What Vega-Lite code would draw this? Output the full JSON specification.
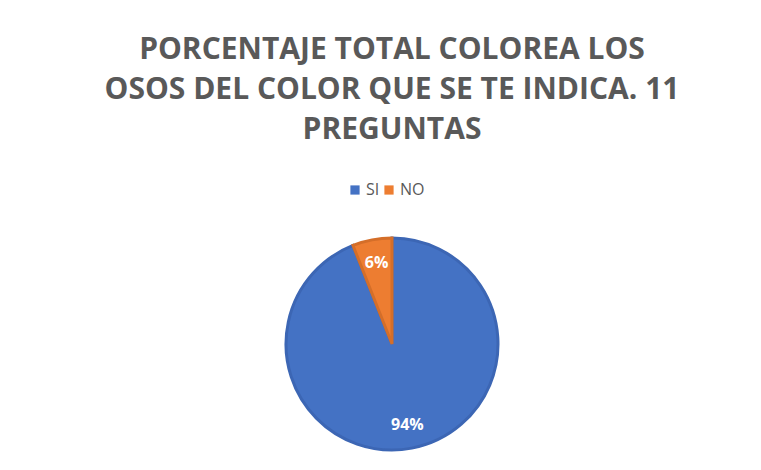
{
  "$schema": "https://vega.github.io/schema/vega-lite/v6.json",
  "autosize": {"type": "fit", "contains": "padding"},
  "width": 761,
  "height": 470,
  "padding": {"left": 23, "top": 35, "right": 0, "bottom": 0},
  "background": "white",
  "view": {"stroke": null},
  "config": {
    "font": "Open Sans"
  },
  "title": {
    "text": ["PORCENTAJE TOTAL COLOREA LOS", "OSOS DEL COLOR QUE SE TE INDICA. 11", "PREGUNTAS"],
    "font": "Open Sans",
    "fontSize": 30,
    "fontWeight": "bold",
    "color": "#595959",
    "lineHeight": 40,
    "anchor": "middle",
    "frame": "group",
    "offset": 73
  },
  "data": {
    "values": [
      {"categoria": "SI", "porcentaje": 94, "etiqueta": "94%"},
      {"categoria": "NO", "porcentaje": 6, "etiqueta": "6%"}
    ]
  },
  "encoding": {
    "theta": {"field": "porcentaje", "type": "quantitative", "stack": true},
    "order": {"field": "categoria", "sort": "descending"}
  },
  "layer": [
    {
      "mark": {"type": "arc", "outerRadius": 106, "strokeWidth": 3},
      "encoding": {
        "color": {
          "field": "categoria",
          "type": "nominal",
          "scale": {"domain": ["SI", "NO"], "range": ["#4472C4", "#ED7D31"]},
          "legend": {
            "title": null,
            "orient": "none",
            "direction": "horizontal",
            "legendX": 324,
            "legendY": -36,
            "symbolType": "square",
            "symbolSize": 85,
            "symbolStrokeWidth": 0,
            "labelFontSize": 16,
            "labelColor": "#595959",
            "labelFont": "Open Sans",
            "columnPadding": 1,
            "labelOffset": 3
          }
        },
        "stroke": {
          "field": "categoria",
          "type": "nominal",
          "scale": {"domain": ["SI", "NO"], "range": ["#3c66b4", "#d46e29"]},
          "legend": null
        }
      }
    },
    {
      "mark": {"type": "text", "radius": 82, "fontSize": 16, "fontWeight": "bold", "fill": "white", "font": "Open Sans"},
      "encoding": {
        "text": {"field": "etiqueta", "type": "nominal"},
        "detail": {"field": "categoria", "type": "nominal"}
      }
    }
  ]
}
